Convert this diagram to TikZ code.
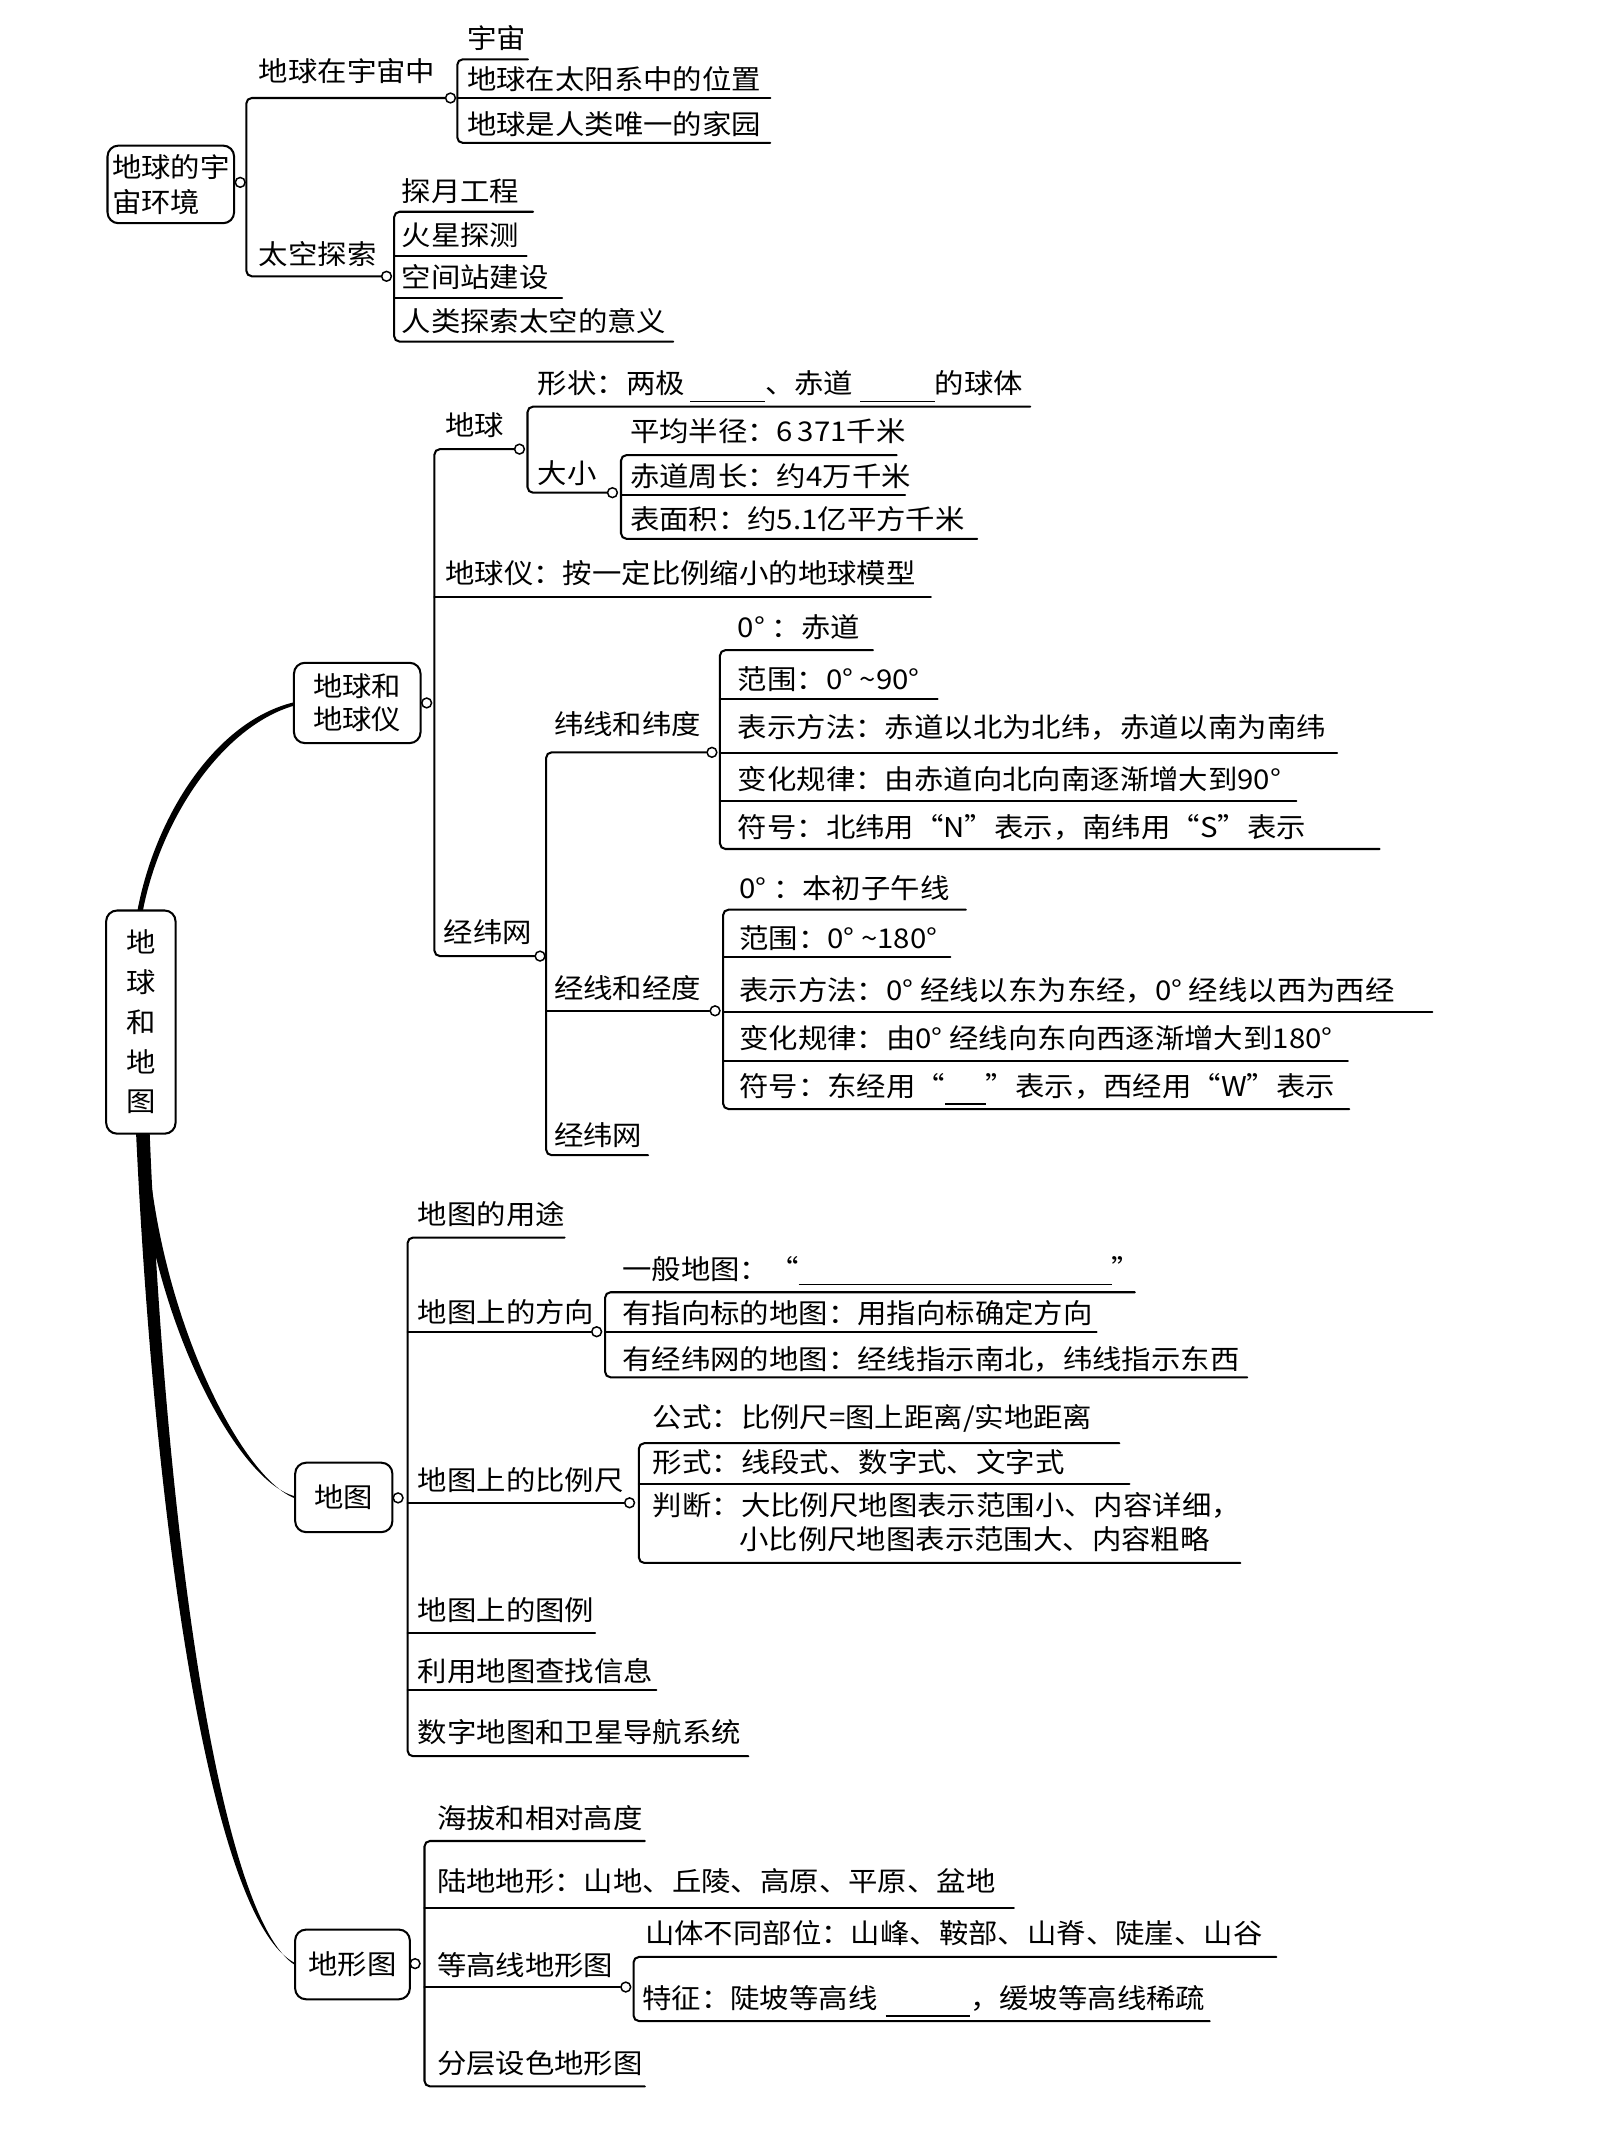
\documentclass[tikz,border=0pt]{standalone}
\usepackage{fontspec}
\setmainfont{Noto Sans CJK SC}[FakeStretch=1.08]
\newcommand{\myfs}{\fontsize{20}{25.5}\selectfont}
\newcommand{\lf}[5]{\node[lbl] (#1) at (#2,#3-#4) {#5};}
\newcommand{\blank}[2]{\rule[-#1pt]{#2pt}{1.3pt}}
\tikzset{
  ln/.style={line width=1.5pt, line cap=round},
  lbl/.style={anchor=base west, inner sep=0pt, font=\myfs},
  dot/.style={circle, draw, fill=white, line width=1.1pt, minimum size=7.2pt, inner sep=0pt},
  box/.style={draw, fill=white, rounded corners=8pt, line width=1.5pt, inner sep=0pt, font=\myfs, align=center},
}
\begin{document}
\begin{tikzpicture}[x=1pt,y=-1pt]
\useasboundingbox (0,0) rectangle (1178,1568);
\fill[white] (0,0) rectangle (1178,1568);

% ---------- tapered main connectors ----------
\fill (101,669) .. controls (114,600) and (158,530) .. (216,516) -- (216,518.5) .. controls (163,534) and (118,602) .. (105,669) -- cycle;
\fill (101,833) .. controls (107,960) and (172,1088) .. (217,1099.5) -- (217,1101) .. controls (176,1086) and (114,960) .. (108,833) -- cycle;
\fill (100,833) .. controls (114,1130) and (156,1412) .. (217,1442.5) -- (217,1444) .. controls (162,1410) and (122,1130) .. (110,833) -- cycle;

% ---------- main node ----------
\node[box, minimum width=51pt, minimum height=164pt, font=\fontsize{20}{29.2}\selectfont] (m) at (103.5,751) {地\\球\\和\\地\\图};

% ---------- section 1 ----------
\node[box, align=left, minimum width=93pt, minimum height=57pt] (s1) at (125.5,135.5) {地球的宇\\宙环境};
\node[dot] (d1) at (176.5,134) {};
\node[dot] (d11) at (331,72) {};
\node[dot] (d12) at (284,203) {};
\draw[ln,rounded corners=4pt] (d11.west) -- (181,72) -- (181,203) -- (d12.west);
\lf{n11}{190}{72}{12}{地球在宇宙中}
\lf{n12}{190}{203}{8.5}{太空探索}
\draw[ln,rounded corners=4pt] (388,43.6) -- (336,43.6) -- (336,105) -- (566,105);
\draw[ln] (336,72) -- (566,72);
\lf{a1}{343}{43.6}{8}{宇宙}
\lf{a2}{343}{72}{6}{地球在太阳系中的位置}
\lf{a3}{343}{105}{6}{地球是人类唯一的家园}
\draw[ln,rounded corners=4pt] (391.7,155.6) -- (289.6,155.6) -- (289.6,251) -- (494.6,251);
\draw[ln] (289.6,188) -- (387,188);
\draw[ln] (289.6,219) -- (413,219);
\lf{b1}{295}{155.6}{7.5}{探月工程}
\lf{b2}{295}{188}{7.5}{火星探测}
\lf{b3}{295}{219}{7.5}{空间站建设}
\lf{b4}{295}{251}{7.5}{人类探索太空的意义}

% ---------- section 2 ----------
\node[box, minimum width=93pt, minimum height=59pt, font=\fontsize{20}{24.5}\selectfont] (s2) at (262.5,516.5) {地球和\\地球仪};
\node[dot] (d2) at (313.5,516.5) {};
\node[dot] (d21) at (381.7,330) {};
\node[dot] (d23) at (396.8,702.5) {};
\draw[ln,rounded corners=4pt] (d21.west) -- (319.2,330) -- (319.2,702.5) -- (d23.west);
\draw[ln] (319.2,438.5) -- (684,438.5);
\lf{e1}{327}{330}{10}{地球}
\lf{e2}{327}{438.5}{10}{地球仪：按一定比例缩小的地球模型}
\lf{e3}{326}{702.5}{10}{经纬网}

\node[dot] (d22) at (450,362) {};
\draw[ln,rounded corners=4pt] (757,298.8) -- (387.6,298.8) -- (387.6,362) -- (d22.west);
\lf{f1}{395}{298.8}{10}{形状：两极\hspace{4pt}\blank{6.8}{55}、赤道\hspace{5pt}\blank{6.8}{55}的球体}
\lf{f2}{395}{362}{7}{大小}
\draw[ln,rounded corners=4pt] (658.8,334.4) -- (456.3,334.4) -- (456.3,395.9) -- (718,395.9);
\draw[ln] (456.3,363.8) -- (665,363.8);
\lf{g1}{462.7}{334.4}{10}{平均半径：6\,371千米}
\lf{g2}{462.7}{363.8}{6.5}{赤道周长：约4万千米}
\lf{g3}{462.7}{395.9}{6.5}{表面积：约5.1亿平方千米}

\node[dot] (d24) at (523.1,552.8) {};
\node[dot] (d25) at (525.4,742.7) {};
\draw[ln,rounded corners=4pt] (d24.west) -- (401.3,552.8) -- (401.3,848.8) -- (476.2,848.8);
\draw[ln] (401.3,742.7) -- (d25.west);
\lf{h1}{407}{552.8}{13}{纬线和纬度}
\lf{h2}{407}{742.7}{9}{经线和经度}
\lf{h3}{407}{848.8}{7}{经纬网}

\draw[ln,rounded corners=4pt] (641.4,477.7) -- (529,477.7) -- (529,623.8) -- (1013.6,623.8);
\draw[ln] (529,513.6) -- (689,513.6);
\draw[ln] (529,553) -- (982.5,553);
\draw[ln] (529,588.6) -- (952.6,588.6);
\lf{i1}{542}{477.7}{9.3}{0° ：赤道}
\lf{i2}{542}{513.6}{7.2}{范围：0° \textasciitilde 90°}
\lf{i3}{542}{553}{11}{表示方法：赤道以北为北纬，赤道以南为南纬}
\lf{i4}{542}{588.6}{8.7}{变化规律：由赤道向北向南逐渐增大到90°}
\lf{i5}{542}{623.8}{8.4}{符号：北纬用“N”表示，南纬用“S”表示}

\draw[ln,rounded corners=4pt] (709.7,668.4) -- (531.3,668.4) -- (531.3,814.9) -- (991.4,814.9);
\draw[ln] (531.3,703.3) -- (698.3,703.3);
\draw[ln] (531.3,743.3) -- (1052.4,743.3);
\draw[ln] (531.3,779.5) -- (990.3,779.5);
\lf{j1}{543}{668.4}{8.4}{0° ：本初子午线}
\lf{j2}{543}{703.3}{6.6}{范围：0° \textasciitilde 180°}
\lf{j3}{543}{743.3}{8.5}{表示方法：0° 经线以东为东经，0° 经线以西为西经}
\lf{j4}{543}{779.5}{9.3}{变化规律：由0° 经线向东向西逐渐增大到180°}
\lf{j5}{543}{814.9}{9.3}{符号：东经用“\blank{6}{30}”表示，西经用“W”表示}

% ---------- section 3 ----------
\node[box, minimum width=71.4pt, minimum height=51pt] (s3) at (252.6,1100.25) {地图};
\node[dot] (d3) at (292.5,1100.6) {};
\node[dot] (d31) at (438.4,978.5) {};
\node[dot] (d32) at (462.6,1104.2) {};
\draw[ln,rounded corners=4pt] (414.8,909.3) -- (299.5,909.3) -- (299.5,1290.4) -- (549.8,1290.4);
\draw[ln] (299.5,978.5) -- (d31.west);
\draw[ln] (299.5,1104.2) -- (d32.west);
\draw[ln] (299.5,1199.6) -- (437.3,1199.6);
\draw[ln] (299.5,1242) -- (482.3,1242);
\lf{k1}{306.8}{909.3}{9.8}{地图的用途}
\lf{k2}{306.8}{978.5}{6.5}{地图上的方向}
\lf{k3}{306.8}{1104.2}{9.3}{地图上的比例尺}
\lf{k4}{306.8}{1199.6}{9}{地图上的图例}
\lf{k5}{306.8}{1242}{6.4}{利用地图查找信息}
\lf{k6}{306.8}{1290.4}{9.8}{数字地图和卫星导航系统}

\draw[ln,rounded corners=4pt] (833.8,949.5) -- (444.6,949.5) -- (444.6,1012) -- (916.4,1012);
\draw[ln] (444.6,978.5) -- (805.7,978.5);
\lf{l1}{457}{949.5}{9.2}{一般地图：“\blank{4.2}{230}”}
\lf{l2}{457}{978.5}{6.4}{有指向标的地图：用指向标确定方向}
\lf{l3}{457}{1012}{5.6}{有经纬网的地图：经线指示南北，纬线指示东西}

\draw[ln,rounded corners=4pt] (822.5,1060.4) -- (469.4,1060.4) -- (469.4,1148.4) -- (911.4,1148.4);
\draw[ln] (469.4,1090.2) -- (829.9,1090.2);
\lf{o1}{479.5}{1060.4}{11.8}{公式：比例尺=图上距离/实地距离}
\lf{o2}{479.5}{1090.2}{8}{形式：线段式、数字式、文字式}
\lf{o3}{479.5}{1113.2}{0}{判断：大比例尺地图表示范围小、内容详细，}
\lf{o4}{543}{1138.5}{0}{小比例尺地图表示范围大、内容粗略}

% ---------- section 4 ----------
\node[box, minimum width=84.3pt, minimum height=51.2pt] (s4) at (259,1443.4) {地形图};
\node[dot] (d4) at (305,1442.8) {};
\node[dot] (d41) at (459.8,1460) {};
\draw[ln,rounded corners=4pt] (473.8,1352.7) -- (311.9,1352.7) -- (311.9,1533) -- (473.8,1533);
\draw[ln] (311.9,1401.9) -- (744.9,1401.9);
\draw[ln] (311.9,1460) -- (d41.west);
\lf{q1}{320.9}{1352.7}{9.3}{海拔和相对高度}
\lf{q2}{320.9}{1401.9}{12}{陆地地形：山地、丘陵、高原、平原、盆地}
\lf{q3}{320.9}{1460}{8.8}{等高线地形图}
\lf{q4}{320.9}{1533}{9.6}{分层设色地形图}
\draw[ln,rounded corners=4pt] (937.8,1437.9) -- (465.5,1437.9) -- (465.5,1485) -- (888.9,1485);
\lf{r1}{473.8}{1437.9}{10}{山体不同部位：山峰、鞍部、山脊、陡崖、山谷}
\lf{r2}{471.8}{1485}{9.3}{特征：陡坡等高线\hspace{6pt}\blank{6}{62}，缓坡等高线稀疏}
\end{tikzpicture}
\end{document}
